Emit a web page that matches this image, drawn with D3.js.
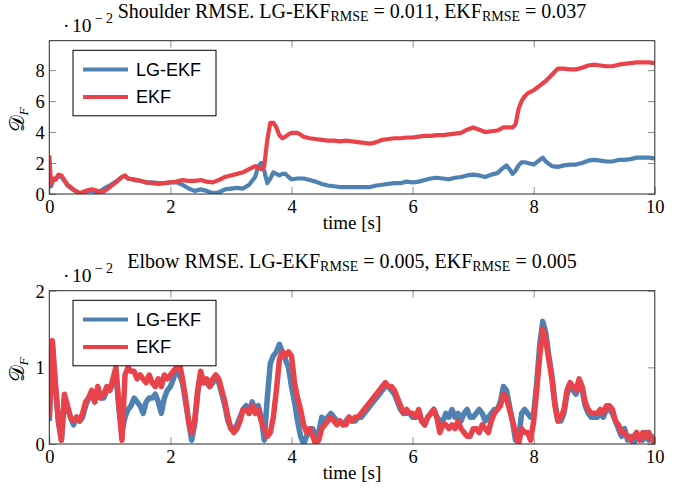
<!DOCTYPE html>
<html>
<head>
<meta charset="utf-8">
<script src="https://cdn.jsdelivr.net/npm/d3@7"></script>
<style>
  body { margin: 0; background: #fff; }
  svg { display: block; }
  text { font-family: "Liberation Serif", "Times New Roman", serif; fill: #000; }
  .legend text { font-family: "Liberation Sans", Arial, sans-serif; }
</style>
</head>
<body>
<svg id="chart" width="694" height="489"></svg>
<script>
// ---- data ----
const seriesNames = ["LG-EKF", "EKF"];
const xTicks = [0, 2, 4, 6, 8, 10];

// shoulder panel, values in units of 1e-2
const timeShoulder = [
  0, 0.03, 0.06, 0.1, 0.15, 0.2, 0.25, 0.3, 0.4, 0.5,
  0.6, 0.7, 0.8, 0.9, 1.0, 1.1, 1.2, 1.25, 1.3, 1.4,
  1.5, 1.6, 1.7, 1.8, 1.9, 2.0, 2.1, 2.2, 2.3, 2.4,
  2.5, 2.6, 2.7, 2.8, 2.9, 3.0, 3.1, 3.2, 3.3, 3.4,
  3.45, 3.5, 3.55, 3.6, 3.65, 3.7, 3.75, 3.8, 3.85, 3.9,
  3.95, 4.0, 4.1, 4.2, 4.3, 4.4, 4.5, 4.6, 4.7, 4.8,
  4.9, 5.0, 5.1, 5.2, 5.3, 5.4, 5.5, 5.6, 5.7, 5.8,
  5.9, 6.0, 6.1, 6.2, 6.3, 6.4, 6.5, 6.6, 6.7, 6.8,
  6.9, 7.0, 7.1, 7.2, 7.3, 7.4, 7.5, 7.55, 7.6, 7.65,
  7.7, 7.75, 7.8, 7.85, 7.9, 8.0, 8.1, 8.15, 8.2, 8.3,
  8.4, 8.5, 8.6, 8.7, 8.8, 8.9, 9.0, 9.1, 9.2, 9.3,
  9.4, 9.5, 9.6, 9.7, 9.8, 9.9, 10.0
];
const lgShoulder = [
  0.6, 0.5, 0.9, 0.9, 1.15, 1.1, 0.85, 0.55, 0.25, 0.05,
  0.15, 0.2, 0.05, 0.35, 0.55, 0.8, 1.1, 1.15, 1.0, 0.9,
  0.85, 0.75, 0.75, 0.7, 0.7, 0.75, 0.75, 0.6, 0.35, 0.2,
  0.3, 0.2, 0.05, 0.1, 0.3, 0.35, 0.4, 0.35, 0.6, 1.1,
  1.8, 2.0, 1.5, 0.7, 1.0, 1.4, 1.3, 1.2, 1.3, 1.3,
  1.1, 0.95, 1.0, 1.0, 0.9, 0.8, 0.65, 0.55, 0.5, 0.45,
  0.45, 0.45, 0.45, 0.45, 0.45, 0.55, 0.6, 0.65, 0.7, 0.7,
  0.8, 0.75, 0.8, 0.9, 1.0, 1.05, 1.0, 0.95, 1.05, 1.1,
  1.2, 1.25, 1.2, 1.1, 1.25, 1.35, 1.7, 1.85, 1.6, 1.3,
  1.5, 1.85, 2.05, 2.05, 2.0, 1.9, 2.2, 2.35, 2.1, 1.8,
  1.75, 1.85, 1.9, 1.9, 2.0, 2.15, 2.2, 2.15, 2.1, 2.1,
  2.2, 2.2, 2.25, 2.35, 2.35, 2.35, 2.3
];
const ekfShoulder = [
  2.5, 0.6, 1.0, 0.95, 1.25, 1.2, 0.9, 0.6, 0.3, 0.05,
  0.2, 0.3, 0.2, 0.15, 0.45, 0.75, 1.1, 1.2, 1.0, 0.95,
  0.85, 0.75, 0.7, 0.65, 0.7, 0.75, 0.8, 0.9, 0.85, 0.85,
  0.9, 0.8, 0.75, 0.9, 1.1, 1.2, 1.3, 1.4, 1.6, 1.8,
  1.7, 1.6, 1.8, 3.5, 4.6, 4.6, 4.3, 3.8, 3.6, 3.7,
  3.85, 3.95, 3.95, 3.7, 3.6, 3.55, 3.5, 3.45, 3.45, 3.4,
  3.45, 3.4, 3.35, 3.3, 3.25, 3.35, 3.5, 3.55, 3.6, 3.6,
  3.65, 3.65, 3.7, 3.75, 3.75, 3.8, 3.8, 3.85, 3.9, 3.95,
  4.15, 4.3, 4.15, 4.0, 4.05, 4.1, 4.3, 4.3, 4.3, 4.3,
  4.5, 5.5, 6.0, 6.3, 6.5, 6.7, 7.0, 7.15, 7.3, 7.7,
  8.1, 8.1, 8.05, 8.05, 8.15, 8.3, 8.35, 8.3, 8.25, 8.25,
  8.35, 8.4, 8.45, 8.5, 8.5, 8.5, 8.45
];

// elbow panel, sampled every 0.05 s
const timeElbow = [
  0, 0.05, 0.1, 0.15, 0.2, 0.25, 0.3, 0.35, 0.4, 0.45, 0.5, 0.55, 0.6, 0.65, 0.7, 0.75, 0.8, 0.85, 0.9, 0.95,
  1, 1.05, 1.1, 1.15, 1.2, 1.25, 1.3, 1.35, 1.4, 1.45, 1.5, 1.55, 1.6, 1.65, 1.7, 1.75, 1.8, 1.85, 1.9, 1.95,
  2, 2.05, 2.1, 2.15, 2.2, 2.25, 2.3, 2.35, 2.4, 2.45, 2.5, 2.55, 2.6, 2.65, 2.7, 2.75, 2.8, 2.85, 2.9, 2.95,
  3, 3.05, 3.1, 3.15, 3.2, 3.25, 3.3, 3.35, 3.4, 3.45, 3.5, 3.55, 3.6, 3.65, 3.7, 3.75, 3.8, 3.85, 3.9, 3.95,
  4, 4.05, 4.1, 4.15, 4.2, 4.25, 4.3, 4.35, 4.4, 4.45, 4.5, 4.55, 4.6, 4.65, 4.7, 4.75, 4.8, 4.85, 4.9, 4.95,
  5, 5.05, 5.1, 5.15, 5.2, 5.25, 5.3, 5.35, 5.4, 5.45, 5.5, 5.55, 5.6, 5.65, 5.7, 5.75, 5.8, 5.85, 5.9, 5.95,
  6, 6.05, 6.1, 6.15, 6.2, 6.25, 6.3, 6.35, 6.4, 6.45, 6.5, 6.55, 6.6, 6.65, 6.7, 6.75, 6.8, 6.85, 6.9, 6.95,
  7, 7.05, 7.1, 7.15, 7.2, 7.25, 7.3, 7.35, 7.4, 7.45, 7.5, 7.55, 7.6, 7.65, 7.7, 7.75, 7.8, 7.85, 7.9, 7.95,
  8, 8.05, 8.1, 8.15, 8.2, 8.25, 8.3, 8.35, 8.4, 8.45, 8.5, 8.55, 8.6, 8.65, 8.7, 8.75, 8.8, 8.85, 8.9, 8.95,
  9, 9.05, 9.1, 9.15, 9.2, 9.25, 9.3, 9.35, 9.4, 9.45, 9.5, 9.55, 9.6, 9.65, 9.7, 9.75, 9.8, 9.85, 9.9, 9.95,
  10
];
const lgElbow = [
  0.3, 1.3, 0.75, 0.3, 0.05, 0.6, 0.45, 0.35, 0.25, 0.35, 0.3, 0.35, 0.5, 0.6, 0.65, 0.55, 0.7, 0.6, 0.6, 0.7,
  0.7, 0.8, 0.95, 0.45, 0.15, 0.35, 0.45, 0.5, 0.6, 0.55, 0.5, 0.4, 0.55, 0.6, 0.6, 0.65, 0.55, 0.4, 0.6, 0.7,
  0.75, 0.85, 1.0, 0.9, 0.8, 0.55, 0.3, 0.05, 0.25, 0.65, 0.9, 0.8, 0.8, 0.75, 0.8, 0.85, 0.8, 0.65, 0.5, 0.3,
  0.2, 0.2, 0.25, 0.35, 0.45, 0.5, 0.4, 0.55, 0.45, 0.5, 0.35, 0.05, 0.6, 1.05, 1.15, 1.2, 1.3, 1.2, 1.1, 1.0,
  0.75, 0.55, 0.3, 0.1, 0.0, 0.1, 0.2, 0.2, 0.1, 0.15, 0.35, 0.3, 0.35, 0.4, 0.35, 0.3, 0.3, 0.25, 0.3, 0.35,
  0.3, 0.3, 0.35, 0.35, 0.4, 0.45, 0.5, 0.55, 0.6, 0.65, 0.7, 0.75, 0.75, 0.7, 0.65, 0.55, 0.45, 0.4, 0.4, 0.4,
  0.35, 0.35, 0.4, 0.3, 0.25, 0.35, 0.4, 0.45, 0.35, 0.3, 0.3, 0.4, 0.35, 0.45, 0.35, 0.4, 0.3, 0.4, 0.45, 0.35,
  0.35, 0.4, 0.45, 0.4, 0.3, 0.35, 0.4, 0.45, 0.45, 0.55, 0.75, 0.7, 0.5, 0.3, 0.05, 0.05, 0.4, 0.45, 0.4, 0.35,
  0.4, 0.8, 1.3, 1.6, 1.45, 1.15, 0.9, 0.55, 0.3, 0.3, 0.4, 0.65, 0.75, 0.7, 0.65, 0.8, 0.7, 0.5, 0.4, 0.35,
  0.35, 0.35, 0.4, 0.35, 0.45, 0.45, 0.4, 0.3, 0.2, 0.1, 0.2, 0.05, 0.1, 0.0, 0.1, 0.1, 0.05, 0.15, 0.05, 0.1,
  0.0
];
const ekfElbow = [
  0.35, 1.35, 0.8, 0.3, 0.05, 0.65, 0.5, 0.35, 0.3, 0.35, 0.3, 0.4, 0.55, 0.6, 0.7, 0.55, 0.75, 0.6, 0.65, 0.75,
  0.7, 0.85, 1.0, 0.5, 0.05, 0.9, 1.0, 0.95, 0.95, 0.85, 0.9, 0.85, 0.8, 0.9, 0.8, 0.75, 0.85, 0.75, 0.9, 0.85,
  0.9, 0.95, 1.0, 1.05, 0.85, 0.6, 0.3, 0.15, 0.3, 0.7, 0.95, 0.8, 0.85, 0.75, 0.85, 0.9, 0.85, 0.7, 0.55, 0.35,
  0.2, 0.15, 0.2, 0.3, 0.45, 0.45, 0.4, 0.5, 0.4, 0.45, 0.3, 0.2, 0.1, 0.15, 0.35, 0.7, 1.1, 1.2, 1.15, 1.2,
  1.15, 0.8, 0.6, 0.45, 0.25, 0.15, 0.2, 0.1, 0.0, 0.05, 0.2, 0.25, 0.3, 0.35, 0.3, 0.25, 0.3, 0.25, 0.25, 0.35,
  0.3, 0.35, 0.35, 0.4, 0.45, 0.5, 0.55, 0.6, 0.65, 0.7, 0.75, 0.8, 0.75, 0.75, 0.7, 0.6, 0.5, 0.4, 0.45, 0.4,
  0.4, 0.35, 0.45, 0.3, 0.25, 0.35, 0.4, 0.45, 0.35, 0.15, 0.25, 0.25, 0.2, 0.25, 0.2, 0.3, 0.2, 0.15, 0.1, 0.1,
  0.2, 0.2, 0.15, 0.25, 0.2, 0.15, 0.3, 0.4, 0.45, 0.5, 0.65, 0.6, 0.45, 0.3, 0.15, 0.0, 0.2, 0.15, 0.15, 0.05,
  0.3, 0.7, 1.15, 1.5, 1.35, 1.1, 0.85, 0.5, 0.3, 0.35, 0.45, 0.7, 0.8, 0.75, 0.7, 0.85, 0.75, 0.55, 0.45, 0.4,
  0.4, 0.4, 0.45, 0.4, 0.5, 0.5, 0.45, 0.3, 0.25, 0.15, 0.15, 0.1, 0.05, 0.1, 0.15, 0.05, 0.15, 0.1, 0.15, 0.05,
  0.05
];

const colors = ["#4f81b3", "#e8434b"];

const svg = d3.select("#chart");
const x = d3.scaleLinear().domain([0, 10]).range([49.3, 654.8]);

function drawPanel(p) {
  const y = d3.scaleLinear().domain([0, p.yMax]).range([p.bottom, p.top]);
  const g = svg.append("g");
  const clipId = "clip-" + p.id;
  svg.append("clipPath").attr("id", clipId).append("rect")
    .attr("x", x(0)).attr("y", p.top)
    .attr("width", x(10) - x(0)).attr("height", p.bottom - p.top);

  // inward ticks on all four sides
  const tickColor = "#8c8c8c";
  const fmt = d3.format("d");
  const xb = g.append("g").attr("transform", `translate(0,${p.bottom})`)
    .call(d3.axisBottom(x).tickValues(xTicks).tickFormat(fmt).tickSizeInner(-7).tickSizeOuter(0));
  xb.selectAll("text").attr("y", 18.7).attr("dy", null);
  g.append("g").attr("transform", `translate(0,${p.top})`)
    .call(d3.axisTop(x).tickValues(xTicks.slice(1, -1)).tickSizeInner(-7).tickSizeOuter(0).tickFormat(""));
  const yl = g.append("g").attr("transform", `translate(${x(0)},0)`)
    .call(d3.axisLeft(y).tickValues(p.yTicks).tickFormat(fmt).tickSizeInner(-7).tickSizeOuter(0));
  yl.selectAll("text").attr("x", -4.5).attr("dy", null).attr("y", 6.3);
  g.append("g").attr("transform", `translate(${x(10)},0)`)
    .call(d3.axisRight(y).tickValues(p.yTicks).tickSizeInner(-7).tickSizeOuter(0).tickFormat(""));
  g.selectAll(".domain").remove();
  g.selectAll(".tick line").attr("stroke", tickColor);
  g.selectAll(".tick text").attr("font-size", 18.5).attr("font-family", "Liberation Serif");

  // series
  const line = d3.line().x(d => x(d[0])).y(d => y(d[1]));
  const lines = g.append("g").attr("clip-path", `url(#${clipId})`);
  p.series.forEach((vals, i) => {
    const pts = p.time.map((t, k) => [t, vals[k]]);
    lines.append("path").datum(pts)
      .attr("d", line)
      .attr("fill", "none")
      .attr("stroke", colors[i])
      .attr("stroke-width", p.lineWidth)
      .attr("stroke-linejoin", "round");
  });

  // frame
  g.append("rect")
    .attr("x", x(0)).attr("y", p.top)
    .attr("width", x(10) - x(0)).attr("height", p.bottom - p.top)
    .attr("fill", "none").attr("stroke", "#262626").attr("stroke-width", 1);

  // legend
  const lg = g.append("g").attr("class", "legend");
  lg.append("rect")
    .attr("x", 73).attr("y", p.top + 9.6).attr("width", 143).attr("height", 65.5)
    .attr("fill", "#fff").attr("stroke", "#000").attr("stroke-width", 1);
  seriesNames.forEach((name, i) => {
    const ly = p.top + 28.8 + i * 27.4;
    lg.append("line").attr("x1", 83).attr("x2", 128).attr("y1", ly).attr("y2", ly)
      .attr("stroke", colors[i]).attr("stroke-width", 4);
    lg.append("text").attr("x", 136).attr("y", ly + 6.3).attr("font-size", 18).text(name);
  });

  // axis labels
  g.append("text").attr("x", (x(0) + x(10)) / 2).attr("y", p.bottom + 35)
    .attr("text-anchor", "middle").attr("font-size", 19).text("time [s]");

  const cy = (p.top + p.bottom) / 2 + 2.5;
  const yt = g.append("text")
    .attr("transform", `translate(24,${cy}) rotate(-90)`)
    .attr("text-anchor", "middle").attr("font-size", 21);
  yt.append("tspan").attr("font-family", "DejaVu Serif, DejaVu Sans, serif").text("\u{1D49F}");
  yt.append("tspan").attr("font-size", 13.5).attr("font-style", "italic").attr("dy", 4).text("F");

  // exponent marker: ·10^-2
  const ex = g.append("text").attr("y", p.top - 9).attr("font-size", 19.5);
  ex.append("tspan").attr("x", 63).text("\u00B7");
  ex.append("tspan").attr("x", 72).text("10");
  ex.append("tspan").attr("x", 95).attr("dy", -8.5).attr("font-size", 14).text("\u2212");
  ex.append("tspan").attr("x", 106).attr("font-size", 14).text("2");

  // title
  const tt = g.append("text").attr("x", 352).attr("y", p.top - 22.7)
    .attr("text-anchor", "middle").attr("font-size", 20);
  tt.append("tspan").text(p.name + " RMSE. LG-EKF");
  tt.append("tspan").attr("font-size", 14).attr("dy", 3).text("RMSE");
  tt.append("tspan").attr("dy", -3).text(" = " + p.rmse[0] + ", EKF");
  tt.append("tspan").attr("font-size", 14).attr("dy", 3).text("RMSE");
  tt.append("tspan").attr("dy", -3).text(" = " + p.rmse[1]);
}

drawPanel({
  id: "shoulder", name: "Shoulder", rmse: ["0.011", "0.037"],
  top: 40.7, bottom: 194, yMax: 9.9, yTicks: [0, 2, 4, 6, 8],
  time: timeShoulder, series: [lgShoulder, ekfShoulder], lineWidth: 4.2
});
drawPanel({
  id: "elbow", name: "Elbow", rmse: ["0.005", "0.005"],
  top: 290.7, bottom: 444, yMax: 2, yTicks: [0, 1, 2],
  time: timeElbow, series: [lgElbow, ekfElbow], lineWidth: 5.5
});
</script>
</body>
</html>
